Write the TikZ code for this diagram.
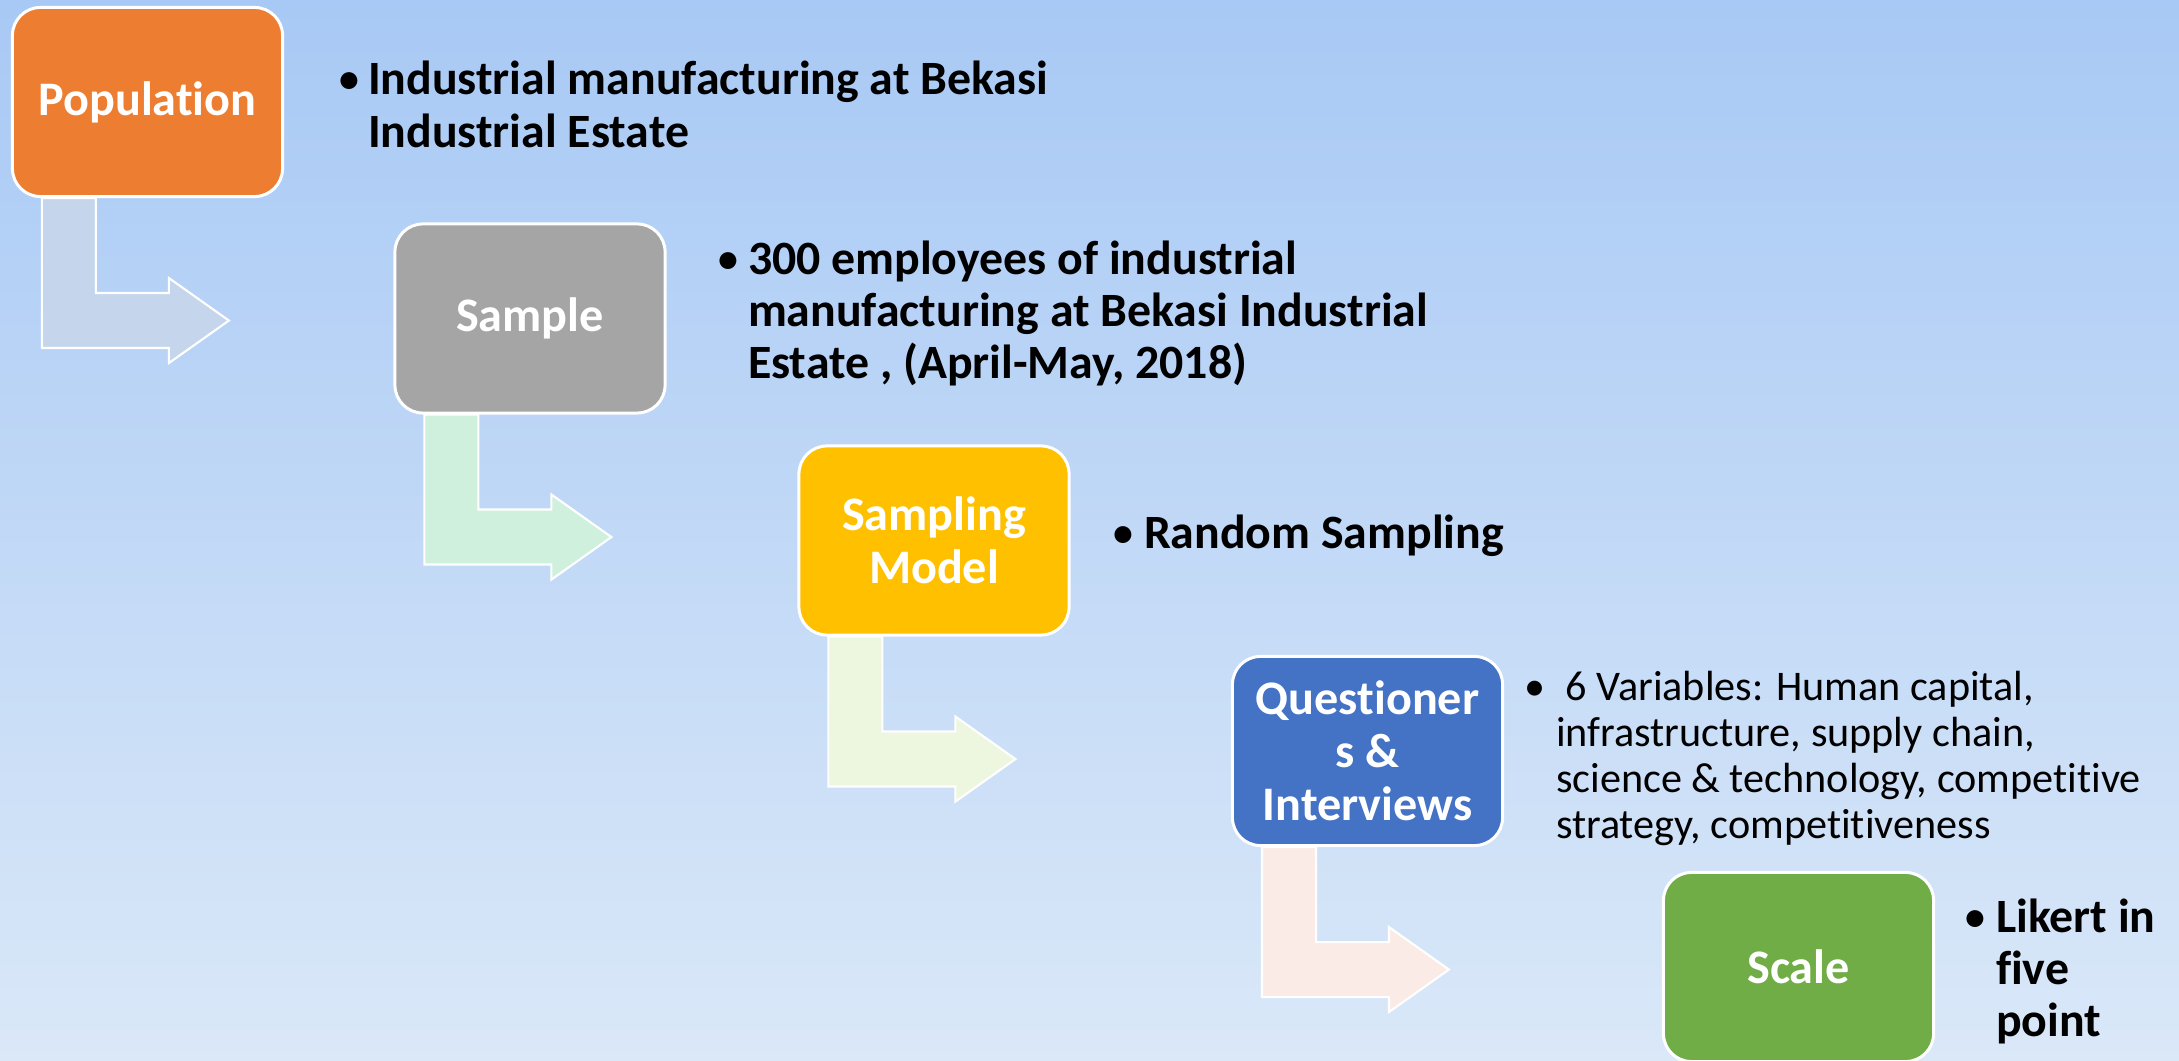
\documentclass[tikz,border=0pt]{standalone}
\usepackage{fontspec}
\setmainfont{Carlito}[Ligatures=NoCommon]
\usetikzlibrary{positioning,calc}

\definecolor{popcol}{HTML}{ED7D31}
\definecolor{samcol}{HTML}{A5A5A5}
\definecolor{modcol}{HTML}{FFC000}
\definecolor{quecol}{HTML}{4472C4}
\definecolor{scacol}{HTML}{70AD47}
\definecolor{arrA}{HTML}{C5D6EC}
\definecolor{arrB}{HTML}{D0F0DE}
\definecolor{arrC}{HTML}{EDF6DE}
\definecolor{arrD}{HTML}{FBEBE6}
\definecolor{bgtop}{HTML}{A8C9F5}
\definecolor{bgbot}{HTML}{DAE8F8}

\newcommand{\blt}{{\normalfont\textbullet}}

\tikzset{
  stage/.style={rectangle, rounded corners=0.28cm, draw=white, line width=0.85pt,
    minimum width=2.70cm, minimum height=1.89cm, inner sep=0pt, text=white, align=center,
    font=\fontsize{13.7}{15}\selectfont\bfseries},
  bullets/.style={anchor=base west, inner sep=0pt, outer sep=0pt},
  bendarrow/.style={draw=white, line width=0.6pt},
}

\begin{document}
\begin{tikzpicture}[x=0.01cm, y=-0.01cm]
    \shade[top color=bgtop, bottom color=bgbot] (0,0) rectangle (2179,1061);
    \useasboundingbox (0,0) rectangle (2179,1061);

    % stages
    \node[stage, fill=popcol] (pop) at (147.5,102) {Population};
    \node[stage, fill=samcol] (sam) at (530,318.5) {Sample};
    \node[stage, fill=modcol] (mod) at (934,540.5) {Sampling\\Model};
    \node[stage, fill=quecol] (que) at (1367.5,751) {Questioner\\s \&\\Interviews};
    \node[stage, fill=scacol] (sca) at (1798.5,967) {Scale};

    % bent arrows below each stage
    \foreach \src/\col in {pop/arrA, sam/arrB, mod/arrC, que/arrD} {
      \begin{scope}[shift={(\src.south west)}]
        \filldraw[bendarrow, fill=\col] (31,0) -- (85,0) -- (85,95) -- (158,95) -- (158,80)
          -- (218,122.5) -- (158,165) -- (158,150) -- (31,150) -- cycle;
      \end{scope}
    }

    % descriptions
    \node[bullets, font=\fontsize{13.6}{14.8}\selectfont\bfseries] (popt) at (337,95)
      {\begin{tabular}[t]{@{}p{0.31cm}@{}l@{}}
        \blt & Industrial manufacturing at Bekasi\\
        & Industrial Estate
      \end{tabular}};
    \node[bullets, font=\fontsize{13.6}{14.7}\selectfont\bfseries] (samt) at (716,275)
      {\begin{tabular}[t]{@{}p{0.32cm}@{}l@{}}
        \blt & 300 employees of industrial\\
        & manufacturing at Bekasi Industrial\\
        & Estate , (April-May, 2018)
      \end{tabular}};
    \node[bullets, font=\fontsize{13.6}{14.8}\selectfont\bfseries] (modt) at (1111,548)
      {\begin{tabular}[t]{@{}p{0.33cm}@{}l@{}}
        \blt & Random Sampling
      \end{tabular}};
    \node[bullets, font=\fontsize{12}{13.1}\selectfont] (quet) at (1524,700)
      {\begin{tabular}[t]{@{}p{0.32cm}@{}l@{}}
        \blt & \ 6 Variables: Human capital,\\
        & infrastructure, supply chain,\\
        & science \& technology, competitive\\
        & strategy, competitiveness
      \end{tabular}};
    \node[bullets, font=\fontsize{13.6}{14.8}\selectfont\bfseries] (scat) at (1963,932)
      {\begin{tabular}[t]{@{}p{0.33cm}@{}l@{}}
        \blt & Likert in\\
        & five\\
        & point
      \end{tabular}};
\end{tikzpicture}
\end{document}
